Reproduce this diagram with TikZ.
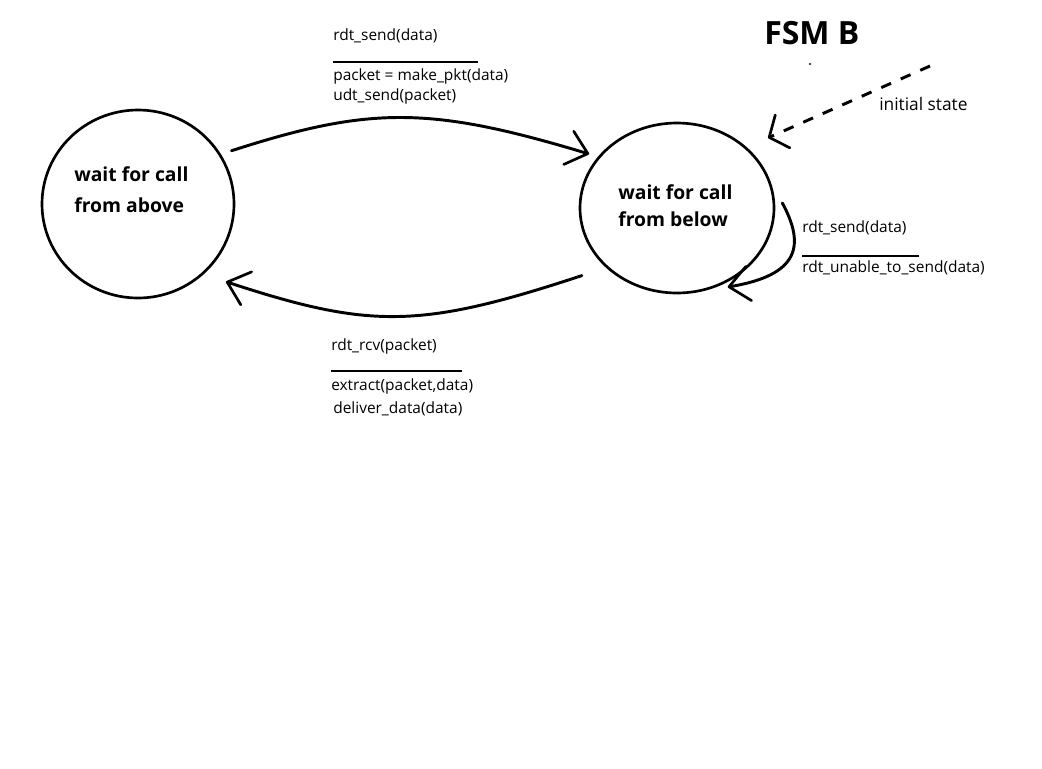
\documentclass[tikz,border=0pt]{standalone}
\usepackage{fontspec}
\setmainfont{Open Sans}
\usetikzlibrary{arrows.meta,shapes.geometric}
\begin{document}
\begin{tikzpicture}[x=0.75pt,y=-0.75pt,
  statebox/.style={draw,ellipse,line width=2pt,inner sep=0pt},
  statetext/.style={align=left,inner sep=0pt,anchor=north west},
  lbl/.style={inner sep=0pt,anchor=west,font=\fontsize{11.6}{13}\selectfont},
  title/.style={inner sep=0pt,anchor=west,font=\fontsize{24}{28}\selectfont\bfseries},
  conn/.style={line width=2.2pt,line cap=round,line join=round},
  bar/.style={line width=0.8pt},
  barb/.style={-{Straight Barb[length=15pt,width=26pt,line width=2pt,round]}}]
\useasboundingbox (0,0) rectangle (1042,768);
\fill[white] (0,0) rectangle (1042,768);

% states
\node[statebox,minimum width=144pt,minimum height=141pt] (A) at (138,204) {};
\node[statebox,minimum width=145.5pt,minimum height=127.5pt] (B) at (677,208) {};
\node[statetext,font=\fontsize{14.5}{23.25}\selectfont\bfseries] (Atext) at (74,166) {wait for call\\from above};
\node[statetext,font=\fontsize{14.5}{20.25}\selectfont\bfseries] (Btext) at (618,184) {wait for call\\from below};

% title and the stray mark below it
\node[title] (fsm) at (764,33) {FSM B};
\fill (810,64) circle (0.8pt);

% A -> B
\draw[conn,barb,shorten <=8.25pt,shorten >=6.9pt]
  (A.31.3) .. controls (370,106) and (430,106) .. (B.147.25);
% B -> A
\draw[conn,barb,shorten <=19pt,shorten >=17.6pt]
  (B.220.2) .. controls (420,329) and (370,329) .. (A.-47);
% self loop on B
\draw[conn,barb]
  ([shift={(7,-5)}]B.east) .. controls (805,245) and (800,275) .. ([shift={(2,4)}]B.-57);
% initial state marker
\coordinate (init) at (930,66);
\draw[conn,dash pattern=on 8pt off 8pt,line cap=butt,
  -{Straight Barb[length=11pt,width=27pt,line width=2pt,round]},shorten >=17.3pt]
  (init) -- (B.41.8);
\node[lbl,font=\fontsize{13}{15}\selectfont] (initlbl) at (879,104) {initial state};

% label of A -> B
\node[lbl] (t1) at (333,36) {rdt\_send(data)};
\draw[bar] (333,62) -- (478,62);
\node[lbl] (t2) at (333,76) {packet = make\_pkt(data)};
\node[lbl] (t3) at (333,96) {udt\_send(packet)};

% label of B -> A
\node[lbl] (b1) at (331,346) {rdt\_rcv(packet)};
\draw[bar] (331,371) -- (462,371);
\node[lbl] (b2) at (331,386) {extract(packet,data)};
\node[lbl] (b3) at (333,409) {deliver\_data(data)};

% label of the self loop
\node[lbl] (s1) at (802,228) {rdt\_send(data)};
\draw[bar] (802,256) -- (919,256);
\node[lbl] (s2) at (802,268) {rdt\_unable\_to\_send(data)};
\end{tikzpicture}
\end{document}
